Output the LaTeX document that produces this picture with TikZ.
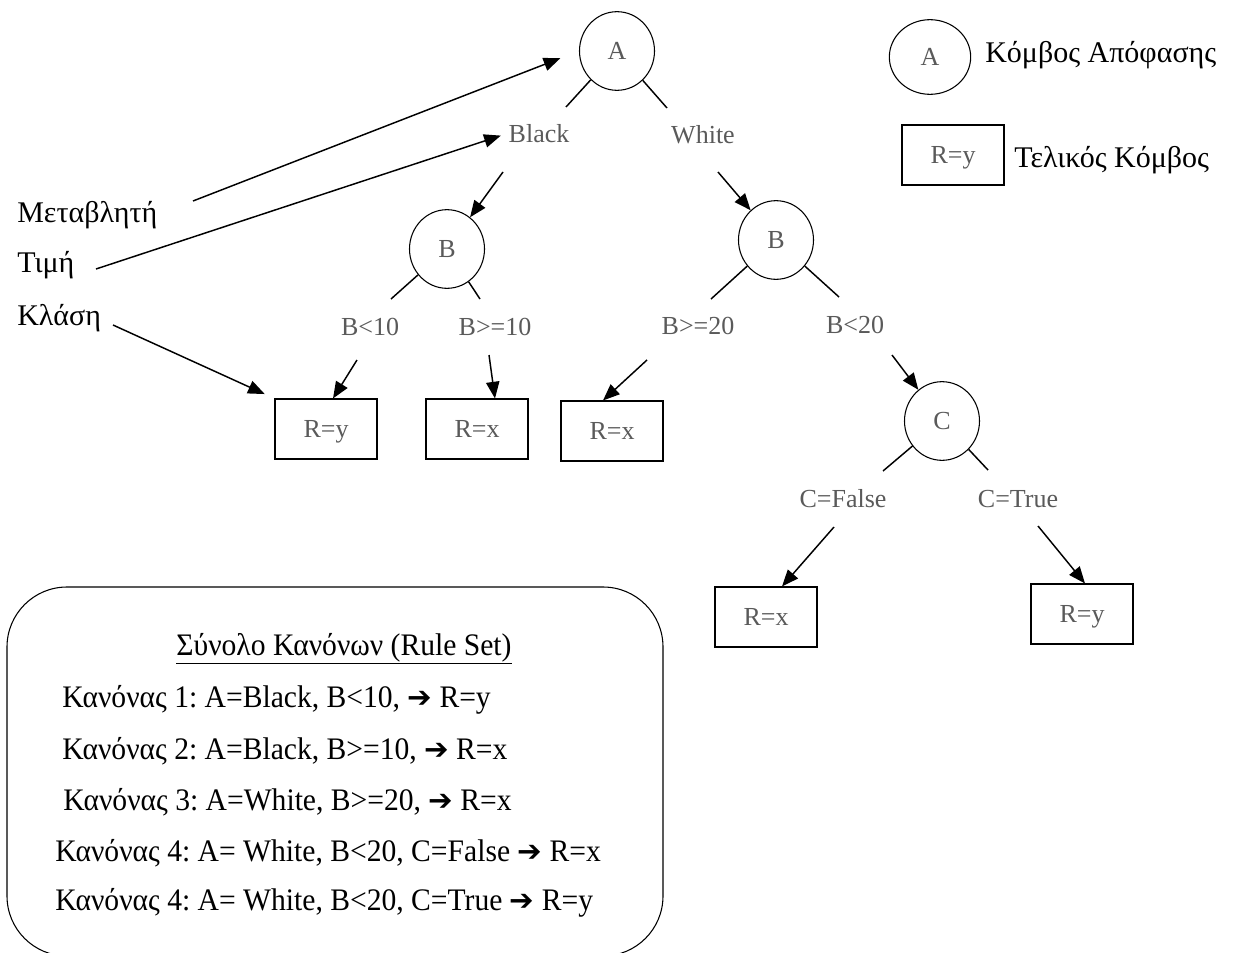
\documentclass[tikz,border=0pt]{standalone}
\usepackage{fontspec}
\setmainfont{Liberation Serif}
\newfontfamily\symfont{DejaVu Sans}
\newfontfamily\rulefont[FakeStretch=0.945]{Liberation Serif}
\usetikzlibrary{arrows.meta,shapes.geometric,calc}
\definecolor{txtgray}{HTML}{5A5A5A}
\newcommand{\rarrow}{{\symfont\fontsize{22}{24}\selectfont ➔}}
\frenchspacing
\begin{document}
\begin{tikzpicture}[x=0.75pt,y=-0.75pt,
 dec/.style={ellipse,draw,line width=0.8pt,minimum width=56.25pt,minimum height=59pt,inner sep=0pt,text=txtgray,text height=12.9pt,text depth=0pt,font=\fontsize{19.5}{22}\selectfont},
 leaf/.style={rectangle,draw,line width=0.8pt,minimum width=76.5pt,minimum height=45pt,inner sep=0pt,text=txtgray,text height=12.9pt,text depth=0pt,font=\fontsize{19.5}{22}\selectfont},
 lbl/.style={anchor=base,inner sep=0pt,text=txtgray,font=\fontsize{19.5}{22}\selectfont},
 grk/.style={anchor=base west,inner sep=0pt,font=\fontsize{22.5}{26}\selectfont},
 rule/.style={anchor=base west,inner sep=0pt,font=\rulefont\fontsize{23.5}{26}\selectfont},
 conn/.style={line width=1.1pt},
 arr/.style={line width=1.1pt,-{Triangle[length=12.5pt,width=10pt]}},
]
\clip (0,0) rectangle (1239,953);
% decision nodes
\node[dec] (A) at (617,51) {A};
\node[dec] (B1) at (447,249) {B};
\node[dec] (B2) at (776,240) {B};
\node[dec] (C) at (942,421) {C};
% leaves
\node[leaf] (L1) at (326,429) {R=y};
\node[leaf] (L2) at (477,429) {R=x};
\node[leaf] (L3) at (612,431) {R=x};
\node[leaf] (L4) at (766,617) {R=x};
\node[leaf] (L5) at (1082,614) {R=y};
% branch labels
\node[lbl] (black) at (539,142) {Black};
\node[lbl] (white) at (703,143) {White};
\node[lbl] (b10) at (370,335) {B<10};
\node[lbl] (bge10) at (495,335) {B>=10};
\node[lbl] (bge20) at (698,334) {B>=20};
\node[lbl] (bl20) at (855,333) {B<20};
\node[lbl] (cf) at (843,507) {C=False};
\node[lbl] (ct) at (1018,507) {C=True};
% legend
\node[dec,minimum width=61pt,minimum height=56pt] (legA) at (930,57) {A};
\node[leaf] (legR) at (953,155) {R=y};
\node[grk] (legAt) at (985,62) {Κόμβος Απόφασης};
\node[grk] (legRt) at (1014,167) {Τελικός Κόμβος};
% left labels
\node[grk] (var) at (17,222) {Μεταβλητή};
\node[grk] (val) at (17,272) {Τιμή};
\node[grk] (cls) at (17,325) {Κλάση};
% line ends
\coordinate (aL) at (566,107);
\coordinate (aR) at (667,108);
\coordinate (b1L) at (391,299);
\coordinate (b1R) at (480,299);
\coordinate (b2L) at (711,299);
\coordinate (b2R) at (839,297);
\coordinate (cL) at (883,471);
\coordinate (cR) at (988,470);
% arrow starts
\coordinate (sBlack) at (503,172);
\coordinate (sWhite) at (718,172);
\coordinate (sb10) at (357,360);
\coordinate (sbge10) at (489,355);
\coordinate (sbge20) at (647,360);
\coordinate (sbl20) at (892,355);
\coordinate (scf) at (834,527);
\coordinate (sct) at (1038,526);
\coordinate (sVar) at (193,201);
\coordinate (sVal) at (96,269);
\coordinate (sCls) at (113,325);
% branch lines
\draw[conn] (A) -- (aL);
\draw[conn] (A) -- (aR);
\draw[conn] (B1) -- (b1L);
\draw[conn] (B1) -- (b1R);
\draw[conn] (B2) -- (b2L);
\draw[conn] (B2) -- (b2R);
\draw[conn] (C) -- (cL);
\draw[conn] (C) -- (cR);
% arrows
\draw[arr] (sBlack) -- (B1);
\draw[arr] (sWhite) -- (B2);
\draw[arr] (sb10) -- ($(L1.north)+(7,0)$);
\draw[arr] (sbge10) -- ($(L2.north)+(18,0)$);
\draw[arr] (sbge20) -- ($(L3.north)+(-9,0)$);
\draw[arr] (sbl20) -- (C);
\draw[arr] (scf) -- ($(L4.north)+(16,0)$);
\draw[arr] (sct) -- ($(L5.north)+(3,0)$);
\draw[arr,shorten >=15pt] (sVar) -- (A.west);
\draw[arr,shorten >=6pt] (sVal) -- (black.west);
\draw[arr,shorten >=8pt] (sCls) -- (L1.north west);
% rule set box
\draw[line width=0.8pt,rounded corners=45pt] (7,587) rectangle (663,956);
\node[anchor=base,inner sep=0pt,font=\rulefont\fontsize{23.5}{26}\selectfont] (rtitle) at (344,655) {\underline{Σύνολο Κανόνων (Rule Set)}};
\node[rule] (r1) at (62,707) {Κανόνας 1: A=Black, B<10, \rarrow{} R=y};
\node[rule] (r2) at (62,759) {Κανόνας 2: A=Black, B>=10, \rarrow{} R=x};
\node[rule] (r3) at (63,810) {Κανόνας 3: A=White, B>=20, \rarrow{} R=x};
\node[rule] (r4) at (55,861) {Κανόνας 4: A= White, B<20, C=False \rarrow{} R=x};
\node[rule] (r5) at (55,910) {Κανόνας 4: A= White, B<20, C=True \rarrow{} R=y};
\end{tikzpicture}
\end{document}
